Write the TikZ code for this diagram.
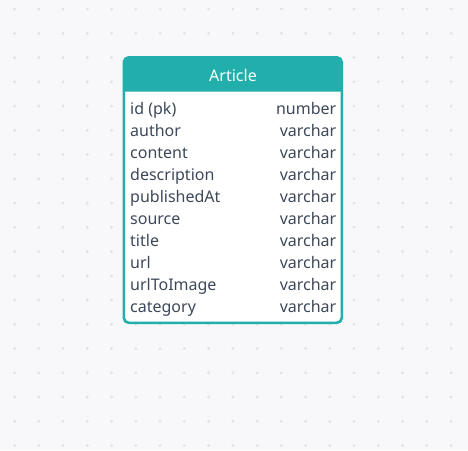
\documentclass[tikz,border=0pt]{standalone}
\usepackage{fontspec}
\setmainfont{Noto Sans}
\definecolor{bgc}{HTML}{F8F8FB}
\definecolor{dotc}{HTML}{E1E1E8}
\definecolor{tealc}{HTML}{22AFAB}
\definecolor{txtc}{HTML}{3D4859}
\tikzset{
  dotmark/.style={fill=dotc,draw=none},
  tablebox/.style={fill=white,draw=none,rounded corners=5pt,outer sep=0pt,inner sep=0pt,anchor=north west},
  tableborder/.style={draw=tealc,line width=2.6pt,rounded corners=5pt},
  headfill/.style={fill=tealc},
  headtext/.style={text=white,font=\fontsize{16}{19}\selectfont,inner sep=0pt},
  fieldname/.style={text=txtc,font=\fontsize{16}{19}\selectfont,anchor=base west,inner sep=0pt},
  fieldtype/.style={text=txtc,font=\fontsize{16}{19}\selectfont,anchor=base east,inner sep=0pt}
}
\begin{document}
\begin{tikzpicture}[x=1pt,y=-1pt]
\useasboundingbox (0,0) rectangle (468,450);
\fill[bgc] (0,0) rectangle (468,450);
\foreach \i in {0,...,18}{
  \foreach \j in {0,...,18}{
    \fill[dotmark] (14.6+24.25*\i, 9+24.25*\j) circle (1.6);
  }
}
\node[tablebox,minimum width=218pt,minimum height=265.5pt] (article) at (123.8,57.3) {};
\coordinate (hl) at (123.8,91.5);
\coordinate (hr) at (341.8,91.5);
\fill[headfill] (hl) [rounded corners=5pt] -- (article.north west) -- (article.north east) [sharp corners] -- (hr) -- cycle;
\draw[tableborder] (article.north west) rectangle (article.south east);
\node[headtext] (title) at (233,75) {Article};
\foreach \n/\t [count=\k from 0] in {id (pk)/number,author/varchar,content/varchar,description/varchar,publishedAt/varchar,source/varchar,title/varchar,url/varchar,urlToImage/varchar,category/varchar}{
  \node[fieldname] (name\k) at (130,114.3+22*\k) {\n};
  \node[fieldtype] (type\k) at (336.5,114.3+22*\k) {\t};
}
\end{tikzpicture}
\end{document}
